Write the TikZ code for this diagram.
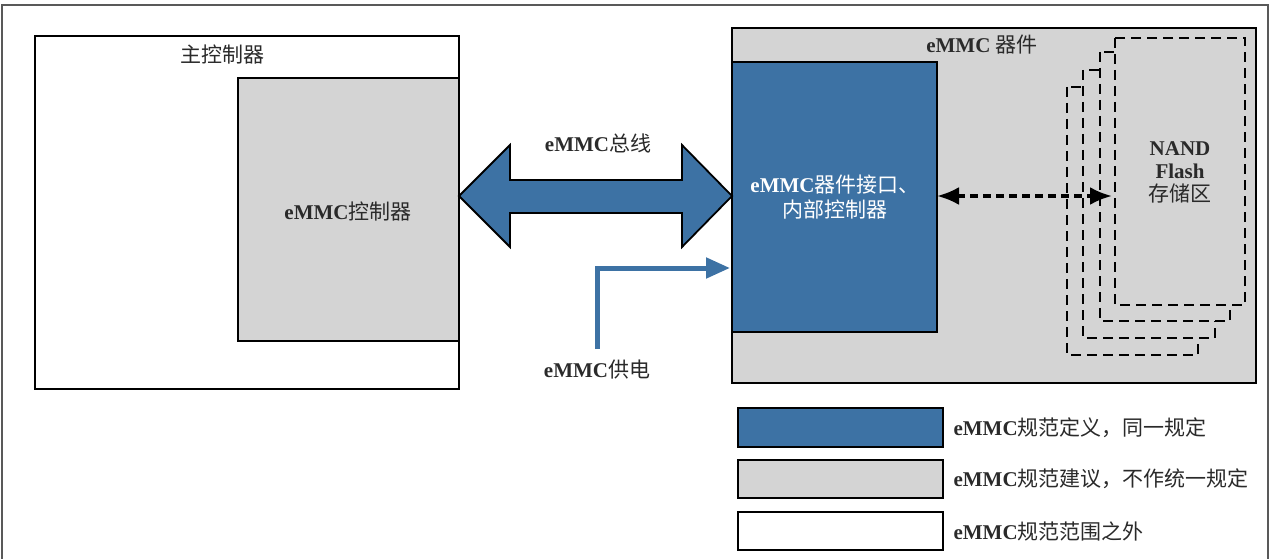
\documentclass[tikz,border=0pt]{standalone}
\usepackage{fontspec}
\usetikzlibrary{arrows.meta}
\setmainfont{Liberation Serif}
\newfontfamily\cjk{Noto Sans CJK SC}
\definecolor{eblue}{HTML}{3D72A4}
\definecolor{egray}{HTML}{D4D4D4}
\definecolor{txtg}{HTML}{2A2A2A}
\newcommand{\zh}[1]{{\cjk\mdseries #1}}
\begin{document}
\begin{tikzpicture}[x=1pt,y=-1pt,
  lbl/.style={font=\fontsize{21}{25}\selectfont, text=txtg, align=center},
  bx/.style={draw=black, line width=2.2pt},
  dsh/.style={draw=black, line width=1.8pt, dash pattern=on 10pt off 6pt, fill=egray}]
\useasboundingbox (0,0) rectangle (1280,559);
\draw[line width=2pt, gray!70!black] (2,5) rectangle (1268,600);
% host
\draw[bx, fill=white] (35,36) rectangle (459,389);
\node[lbl] (hostt) at (222,55) {\zh{主控制器}};
\draw[bx, fill=egray] (238,78) rectangle (459,341);
\node[lbl] (ctrl) at (348,212) {\textbf{eMMC}\zh{控制器}};
% device
\draw[bx, fill=egray] (732,28) rectangle (1256,383);
\node[lbl] (devt) at (982,45) {\textbf{eMMC} \zh{器件}};
\draw[dsh] (1067,87) rectangle (1198,355);
\draw[dsh] (1083,70) rectangle (1215,338);
\draw[dsh] (1100,52) rectangle (1230,321);
\draw[dsh] (1115,38) rectangle (1245,305);
\node[lbl] (nand) at (1180,172) {\textbf{NAND}\\[-2pt]\textbf{Flash}\\[-2pt]\zh{存储区}};
\draw[bx, fill=eblue] (732,62) rectangle (937,332);
\node[lbl, text=white] (iface) at (835,197) {\textbf{eMMC}\zh{器件接口、}\\\zh{内部控制器}};
\coordinate (dl) at (937,196);
\coordinate (dr) at (1112,196);
\draw[line width=3.5pt, dash pattern=on 8pt off 5pt, {Latex[length=22pt,width=18pt]}-{Latex[length=22pt,width=18pt]}] (dl) -- (dr);
% bus arrow
\draw[line width=1.8pt, fill=eblue] (459,196) -- (510,145) -- (510,180) -- (682,180) -- (682,145) -- (732,196) -- (682,247) -- (682,213) -- (510,213) -- (510,247) -- cycle;
\node[lbl] (bus) at (598,143) {\textbf{eMMC}\zh{总线}};
% power
\coordinate (p0) at (597,349);
\coordinate (p1) at (597,268);
\coordinate (p2) at (730,268);
\draw[eblue, line width=5pt, -{Triangle[length=24pt,width=20pt]}] (p0) -- (p1) -- (p2);
\node[lbl] (pwr) at (597,370) {\textbf{eMMC}\zh{供电}};
% legend
\draw[bx, fill=eblue] (738,408) rectangle (943,447);
\draw[bx, fill=egray] (738,460) rectangle (943,498);
\draw[bx, fill=white] (738,512) rectangle (943,550);
\node[lbl, anchor=west] (l1) at (950,428) {\textbf{eMMC}\zh{规范定义，同一规定}};
\node[lbl, anchor=west] (l2) at (950,479) {\textbf{eMMC}\zh{规范建议，不作统一规定}};
\node[lbl, anchor=west] (l3) at (950,531) {\textbf{eMMC}\zh{规范范围之外}};
\end{tikzpicture}
\end{document}
